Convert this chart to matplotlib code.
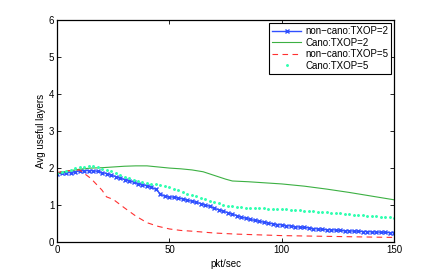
import matplotlib
matplotlib.use("Agg")
import matplotlib.pyplot as plt
import numpy as np

plt.rcParams['font.family'] = ['Liberation Sans', 'DejaVu Sans']

# non-cano:TXOP=2 (every 2 pkt/sec)
nc2_y = [1.85, 1.86, 1.87, 1.88, 1.90, 1.92, 1.93, 1.93, 1.93, 1.91,
         1.88, 1.85, 1.81, 1.77, 1.73, 1.69, 1.66, 1.62, 1.58, 1.55,
         1.52, 1.48, 1.42, 1.30, 1.23, 1.22, 1.21, 1.19, 1.16, 1.13,
         1.10, 1.07, 1.04, 1.00, 0.96, 0.91, 0.87, 0.83, 0.79, 0.75,
         0.71, 0.67, 0.64, 0.61, 0.58, 0.56, 0.53, 0.51, 0.49, 0.47,
         0.46, 0.44, 0.43, 0.41, 0.40, 0.39, 0.38, 0.36, 0.35, 0.34,
         0.33, 0.33, 0.32, 0.31, 0.30, 0.30, 0.29, 0.29, 0.28, 0.28,
         0.27, 0.27, 0.26, 0.26, 0.25, 0.25]
nc2_x = np.arange(len(nc2_y)) * 2

# Cano:TXOP=5 (every 2 pkt/sec)
c5_y = [1.88, 1.90, 1.93, 1.96, 1.99, 2.02, 2.04, 2.06, 2.05, 2.02,
        1.98, 1.95, 1.91, 1.86, 1.81, 1.76, 1.72, 1.67, 1.64, 1.62,
        1.60, 1.58, 1.56, 1.53, 1.51, 1.48, 1.44, 1.40, 1.36, 1.31,
        1.27, 1.23, 1.19, 1.15, 1.11, 1.08, 1.05, 1.00, 0.97, 0.96,
        0.95, 0.94, 0.93, 0.93, 0.92, 0.91, 0.91, 0.90, 0.90, 0.89,
        0.89, 0.88, 0.87, 0.87, 0.86, 0.85, 0.84, 0.83, 0.82, 0.81,
        0.80, 0.79, 0.78, 0.77, 0.76, 0.75, 0.74, 0.73, 0.72, 0.71,
        0.70, 0.69, 0.68, 0.67, 0.67, 0.66]
c5_x = np.arange(len(c5_y)) * 2

# Cano:TXOP=2
c2_x = [0, 5, 10, 15, 20, 25, 30, 35, 40, 45, 50, 55, 60, 65, 70, 75, 78,
        85, 90, 100, 110, 120, 130, 140, 150]
c2_y = [1.85, 1.92, 1.97, 2.00, 2.01, 2.03, 2.05, 2.06, 2.06, 2.03, 2.00,
        1.98, 1.95, 1.90, 1.80, 1.70, 1.65, 1.63, 1.61, 1.57, 1.51, 1.43,
        1.34, 1.24, 1.14]

# non-cano:TXOP=5
nc5_x = [0, 5, 10, 15, 20, 22, 25, 30, 35, 40, 45, 50, 55, 60, 70, 80, 90,
         100, 110, 120, 130, 140, 150]
nc5_y = [1.88, 1.93, 1.95, 1.72, 1.40, 1.22, 1.15, 0.92, 0.70, 0.52, 0.42,
         0.35, 0.31, 0.29, 0.24, 0.21, 0.19, 0.17, 0.16, 0.15, 0.14, 0.13,
         0.12]

fig = plt.figure(figsize=(4.36, 2.73), dpi=100)
ax = fig.add_axes([0.131, 0.114, 0.773, 0.811])

ax.plot(nc2_x, nc2_y, color='#3050ff', marker='x', markersize=3.5,
        markeredgewidth=1.0, linewidth=1.0, label='non\u2212cano:TXOP=2')
ax.plot(c2_x, c2_y, color='#3cb043', linewidth=0.8, label='Cano:TXOP=2')
ax.plot(nc5_x, nc5_y, color='#ff3030', linestyle=(0, (5, 4)),
        linewidth=0.8, label='non\u2212cano:TXOP=5')
ax.plot(c5_x, c5_y, color='#30ffb0', marker='.', markersize=2.2,
        linestyle='none', label='Cano:TXOP=5')

ax.set_xlim(0, 150)
ax.set_ylim(0, 6)
ax.set_xticks([0, 50, 100, 150])
ax.set_yticks(range(7))
ax.tick_params(direction='in', top=True, right=True, labelsize=7,
               length=3, width=0.6, pad=2)
for s in ax.spines.values():
    s.set_linewidth(0.9)
ax.set_xlabel('pkt/sec', fontsize=7, labelpad=3)
ax.set_ylabel('Avg useful layers', fontsize=7, labelpad=2)

leg = ax.legend(loc='upper right', fontsize=7, fancybox=False,
                edgecolor='black', framealpha=1, borderpad=0.3,
                labelspacing=0.15, handlelength=3, handletextpad=0.4,
                borderaxespad=0.3)
leg.get_frame().set_linewidth(0.8)

fig.savefig('out.png', dpi=100)
